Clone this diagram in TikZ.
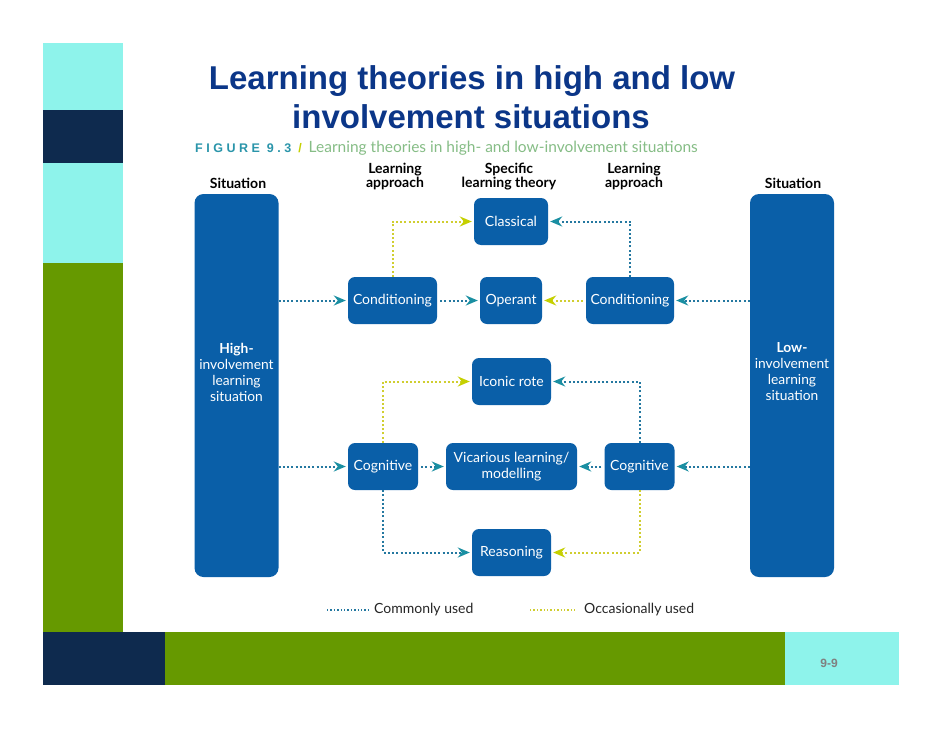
\documentclass[tikz,border=0pt]{standalone}
\usepackage{fontspec}
\setmainfont{Lato}
\newfontfamily\titlefont{Liberation Sans}
\usetikzlibrary{arrows.meta,calc}
\definecolor{boxblue}{HTML}{0A5FA8}
\definecolor{tealc}{HTML}{1A8FA2}
\definecolor{tealdot}{HTML}{2478A0}
\definecolor{yelc}{HTML}{C5D000}
\definecolor{yeldot}{HTML}{D0CE30}
\definecolor{cyanbar}{HTML}{8EF3EB}
\definecolor{navybar}{HTML}{0E2A4E}
\definecolor{greenbar}{HTML}{669900}
\definecolor{titleblue}{HTML}{0B3688}
\definecolor{capteal}{HTML}{2A95AA}
\definecolor{capgreen}{HTML}{86BD86}
\definecolor{pagegray}{HTML}{808080}
\begin{document}
\begin{tikzpicture}[x=1pt,y=-1pt,
  box/.style={draw=none, fill=boxblue, rounded corners=7pt, text=white,
    font=\fontsize{14}{15.5}\selectfont, inner sep=0pt, align=center,
    minimum height=47pt},
  tallbox/.style={draw=none, fill=boxblue, rounded corners=9pt,
    minimum width=84pt, minimum height=383pt, inner sep=0pt},
  talltext/.style={text=white, font=\fontsize{13.8}{16}\selectfont, align=center, inner sep=0pt},
  header/.style={text=black, font=\bfseries\fontsize{14}{14.5}\selectfont, align=center, inner sep=0pt},
  com/.style={draw=tealdot, line width=2pt, dash pattern=on 2pt off 2.2pt,
    -{Stealth[length=12pt,width=10pt,inset=4pt,color=tealc]}, shorten >=2pt},
  occ/.style={draw=yeldot, line width=2pt, dash pattern=on 2pt off 2.2pt,
    -{Stealth[length=12pt,width=10pt,inset=4pt,color=yelc]}, shorten >=2pt},
  legcom/.style={draw=tealdot, line width=1.4pt, dash pattern=on 1.4pt off 2pt},
  legocc/.style={draw=yeldot, line width=1.4pt, dash pattern=on 1.4pt off 2pt},
  legtext/.style={text=black!85, font=\fontsize{14}{15}\selectfont, anchor=west, inner sep=0pt}
]
\useasboundingbox (0,0) rectangle (942,728);
\fill[white] (0,0) rectangle (942,728);

% left decoration column
\fill[cyanbar] (43,43) rectangle (123,110);
\fill[navybar] (43,110) rectangle (123,163);
\fill[cyanbar] (43,163) rectangle (123,263);
\fill[greenbar] (43,263) rectangle (123,632);
% bottom bar
\fill[navybar] (43,632) rectangle (165,685);
\fill[greenbar] (165,632) rectangle (785,685);
\fill[cyanbar] (785,632) rectangle (899,685);
\node[text=pagegray, font=\titlefont\bfseries\fontsize{12}{14}\selectfont] (pagenum) at (829,663) {9-9};

% title
\node[anchor=base, text=titleblue, font=\titlefont\bfseries\fontsize{33}{38}\selectfont, inner sep=0pt] (title1) at (472,89) {Learning theories in high and low};
\node[anchor=base, text=titleblue, font=\titlefont\bfseries\fontsize{33}{38}\selectfont, inner sep=0pt] (title2) at (471,128) {involvement situations};

% caption
\node[anchor=base west, inner sep=0pt] (caption) at (195,152)
  {{\titlefont\bfseries\fontsize{12.5}{14}\selectfont\addfontfeatures{LetterSpace=28}\color{capteal}FIGURE 9.3}\hspace{7pt}{\titlefont\bfseries\fontsize{12.5}{14}\selectfont\color{yelc}/}\hspace{7pt}{\fontsize{15.5}{16}\selectfont\color{capgreen}Learning theories in high- and low-involvement situations}};

% headers
\node[header] (h1) at (238,183.5) {Situation};
\node[header] (h2) at (395,176.5) {Learning\\approach};
\node[header] (h3) at (509,176.5) {Specific\\learning theory};
\node[header] (h4) at (634,176.5) {Learning\\approach};
\node[header] (h5) at (793,183.5) {Situation};

% tall boxes
\node[tallbox] (hi) at (236.5,385.5) {};
\node[talltext] (hitext) at (236.5,372) {\textbf{High-}\\involvement\\learning\\situation};
\node[tallbox] (lo) at (792,385.5) {};
\node[talltext] (lotext) at (792,372) {\textbf{Low-}\\involvement\\learning\\situation};

% boxes
\node[box, minimum width=74pt] (classical) at (511,221.5) {Classical};
\node[box, minimum width=89pt] (condL) at (392.5,300.5) {Conditioning};
\node[box, minimum width=62pt] (operant) at (511,300.5) {Operant};
\node[box, minimum width=88pt] (condR) at (630,300.5) {Conditioning};
\node[box, minimum width=79pt] (iconic) at (511.5,381.5) {Iconic rote};
\node[box, minimum width=70pt] (cogL) at (383,466.5) {Cognitive};
\node[box, minimum width=131pt] (vic) at (511.5,466.5) {Vicarious learning/\\modelling};
\node[box, minimum width=70pt] (cogR) at (639.5,466.5) {Cognitive};
\node[box, minimum width=79pt] (reason) at (511.5,552.5) {Reasoning};

% connectors - conditioning
\draw[com] (hi.east |- condL) -- (condL.west);
\draw[occ] (condL.north) |- (classical.west);
\draw[com] (condL.east) ++(3pt,0) -- (operant.west);
\draw[com] (lo.west |- condR) -- (condR.east);
\draw[com] (condR.north) |- (classical.east);
\draw[occ] (condR.west) ++(-3pt,0) -- (operant.east);

% connectors - cognitive
\draw[com] (hi.east |- cogL) -- (cogL.west);
\draw[occ] (cogL.north) |- (iconic.west);
\draw[com] (cogL.east) ++(3pt,0) -- (vic.west);
\draw[com] (cogL.south) |- (reason.west);
\draw[com] (lo.west |- cogR) -- (cogR.east);
\draw[com] (cogR.north) |- (iconic.east);
\draw[com] (cogR.west) ++(-3pt,0) -- (vic.east);
\draw[occ] (cogR.south) |- (reason.east);

% legend
\coordinate (lc1) at (327,610);
\coordinate (lc2) at (368,610);
\coordinate (lo1) at (530,610);
\coordinate (lo2) at (575,610);
\draw[legcom] (lc1) -- (lc2);
\node[legtext] (legc) at (374,610) {Commonly used};
\draw[legocc] (lo1) -- (lo2);
\node[legtext] (lego) at (584,610) {Occasionally used};
\end{tikzpicture}
\end{document}
